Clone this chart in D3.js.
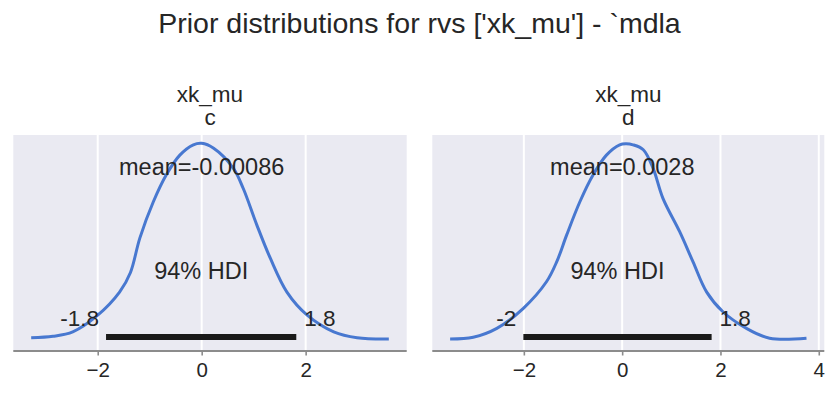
<!DOCTYPE html>
<html>
<head>
<meta charset="utf-8">
<script src="https://cdn.jsdelivr.net/npm/d3@7"></script>
<style>
  body { margin: 0; background: #fff; }
  text { font-family: "Liberation Sans", Arial, sans-serif; fill: #262626; }
</style>
</head>
<body>
<div id="chart"></div>
<script>
// KDE, panel "c"
var cX = [-3.28, -2.86, -2.48, -2.0, -1.58, -1.37, -1.19, -0.93, -0.68, -0.42, -0.16, 0, 0.23, 0.61, 0.80, 1.06, 1.32, 1.64, 2.03, 2.54, 2.99, 3.60];
var cY = [0.007, 0.010, 0.019, 0.053, 0.10, 0.14, 0.21, 0.284, 0.339, 0.379, 0.40, 0.403, 0.393, 0.352, 0.311, 0.237, 0.169, 0.10, 0.053, 0.019, 0.007, 0.0045];
// panel "d"
var dX = [-3.50, -3.03, -2.55, -2.01, -1.54, -1.33, -1.13, -0.86, -0.59, -0.32, -0.05, 0.08, 0.22, 0.43, 0.63, 0.83, 1.17, 1.44, 1.72, 2.05, 2.53, 3.00, 3.75];
var dY = [0.0045, 0.008, 0.026, 0.067, 0.121, 0.162, 0.216, 0.284, 0.339, 0.379, 0.40, 0.402, 0.40, 0.39, 0.352, 0.291, 0.223, 0.162, 0.10, 0.060, 0.026, 0.006, 0.006];

var panelNames = ["c", "d"];
var means = [-0.00086, 0.0028];
var meanLabels = ["mean=-0.00086", "mean=0.0028"];
var hdiLow = [-1.84, -2.01];
var hdiHigh = [1.82, 1.82];
var hdiLowLabels = ["-1.8", "-2"];
var hdiHighLabels = ["1.8", "1.8"];
var tickValues = [[-2, 0, 2], [-2, 0, 2, 4]];

var width = 839, height = 398;
var plotTop = 135, plotBottom = 351;
var panelLeft = [13.3, 432.3];
var panelRight = [406.7, 824.3];

var svg = d3.select("#chart").append("svg")
  .attr("width", width)
  .attr("height", height);

svg.append("text")
  .attr("x", width / 2)
  .attr("y", 33)
  .attr("text-anchor", "middle")
  .style("font-size", "28.5px")
  .text("Prior distributions for rvs ['xk_mu'] - `mdla");

var series = [
  cX.map(function(x, i) { return [x, cY[i]]; }),
  dX.map(function(x, i) { return [x, dY[i]]; })
];

var y = d3.scaleLinear().domain([-0.02, 0.42]).range([plotBottom, plotTop]);

series.forEach(function(pts, p) {
  var ext = d3.extent(pts, function(d) { return d[0]; });
  var pad = (ext[1] - ext[0]) * 0.05;   // matplotlib-like margins
  var x = d3.scaleLinear()
    .domain([ext[0] - pad, ext[1] + pad])
    .range([panelLeft[p], panelRight[p]]);

  var g = svg.append("g");

  g.append("rect")
    .attr("x", panelLeft[p])
    .attr("y", plotTop)
    .attr("width", panelRight[p] - panelLeft[p])
    .attr("height", plotBottom - plotTop)
    .attr("fill", "#eaeaf2");

  // vertical grid
  g.selectAll(".grid")
    .data(tickValues[p])
    .enter().append("line")
    .attr("x1", function(d) { return x(d); })
    .attr("x2", function(d) { return x(d); })
    .attr("y1", plotTop)
    .attr("y2", plotBottom)
    .attr("stroke", "#fff")
    .attr("stroke-width", 2);

  // subplot titles
  g.append("text")
    .attr("x", (panelLeft[p] + panelRight[p]) / 2)
    .attr("y", 101.7)
    .attr("text-anchor", "middle")
    .style("font-size", "22.5px")
    .text("xk_mu");
  g.append("text")
    .attr("x", (panelLeft[p] + panelRight[p]) / 2)
    .attr("y", 125)
    .attr("text-anchor", "middle")
    .style("font-size", "22.5px")
    .text(panelNames[p]);

  // axis
  var axis = d3.axisBottom(x).tickValues(tickValues[p]).tickSize(4.5).tickPadding(7);
  var ax = g.append("g")
    .attr("transform", "translate(0," + plotBottom + ")")
    .call(axis);
  ax.select(".domain").remove();
  ax.selectAll(".tick line").attr("stroke", "#8c8c8c").attr("stroke-width", 1.6);
  ax.selectAll(".tick text")
    .style("font-size", "20.5px")
    .style("font-family", '"Liberation Sans", Arial, sans-serif')
    .attr("fill", "#262626");
  g.append("line")
    .attr("x1", panelLeft[p])
    .attr("x2", panelRight[p])
    .attr("y1", plotBottom)
    .attr("y2", plotBottom)
    .attr("stroke", "#8c8c8c")
    .attr("stroke-width", 2.2);

  // KDE
  var line = d3.line()
    .x(function(d) { return x(d[0]); })
    .y(function(d) { return y(d[1]); })
    .curve(d3.curveCatmullRom.alpha(0.5));
  g.append("path")
    .datum(pts)
    .attr("d", line)
    .attr("fill", "none")
    .attr("stroke", "#4878d0")
    .attr("stroke-width", 3);

  // HDI bar
  var hy = 0.0085;
  g.append("line")
    .attr("x1", x(hdiLow[p]))
    .attr("x2", x(hdiHigh[p]))
    .attr("y1", y(hy))
    .attr("y2", y(hy))
    .attr("stroke", "#1a1a1a")
    .attr("stroke-width", 6);

  g.append("text")
    .attr("x", x(hdiLow[p]) - 7)
    .attr("y", y(0.031))
    .attr("text-anchor", "end")
    .style("font-size", "22.5px")
    .text(hdiLowLabels[p]);
  g.append("text")
    .attr("x", x(hdiHigh[p]) + 8)
    .attr("y", y(0.031))
    .attr("text-anchor", "start")
    .style("font-size", "22.5px")
    .text(hdiHighLabels[p]);

  g.append("text")
    .attr("x", x((hdiLow[p] + hdiHigh[p]) / 2))
    .attr("y", y(0.126))
    .attr("text-anchor", "middle")
    .style("font-size", "23.5px")
    .text("94% HDI");

  g.append("text")
    .attr("x", x(means[p]))
    .attr("y", y(0.3386))
    .attr("text-anchor", "middle")
    .style("font-size", "23.5px")
    .text(meanLabels[p]);
});
</script>
</body>
</html>
